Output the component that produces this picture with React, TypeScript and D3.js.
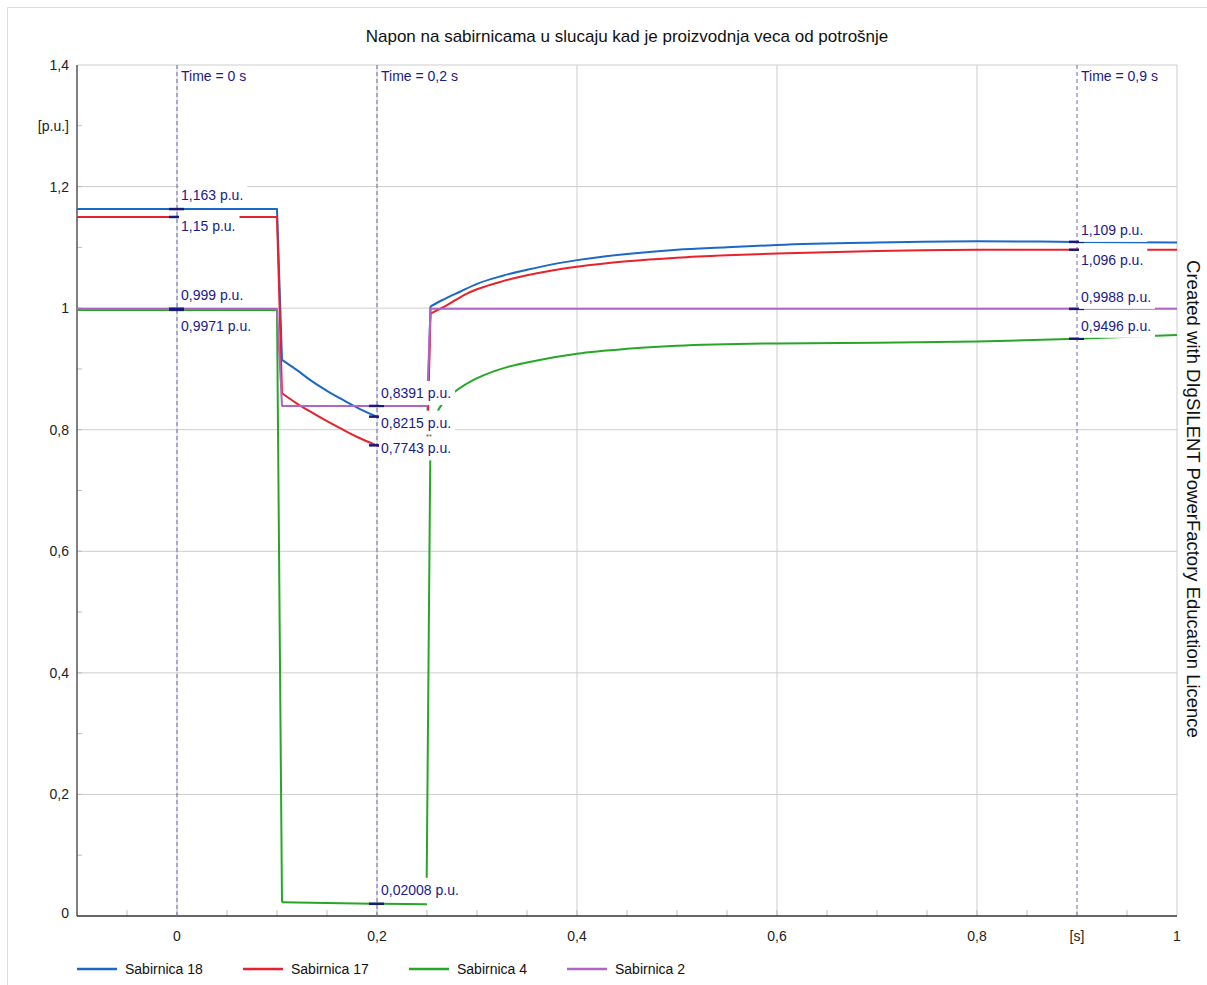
import React from "react";
import * as d3 from "d3";

// ---------- data ----------
const chartTitle = "Napon na sabirnicama u slucaju kad je proizvodnja veca od potrošnje";
const watermark = "Created with DIgSILENT PowerFactory Education Licence";

const seriesNames = ["Sabirnica 18", "Sabirnica 17", "Sabirnica 4", "Sabirnica 2"];
const seriesColors = ["#1c68c6", "#e8212b", "#26a826", "#b064c4"];

// Sabirnica 18
const blueT1 = [-0.1, 0.1, 0.105, 0.12, 0.133, 0.15, 0.166, 0.183, 0.2, 0.225, 0.25];
const blueV1 = [1.163, 1.163, 0.915, 0.898, 0.882, 0.864, 0.849, 0.834, 0.8215, 0.807, 0.796];
const blueT2 = [0.25, 0.2535, 0.265, 0.283, 0.3, 0.325, 0.35, 0.375, 0.4, 0.45, 0.5, 0.55, 0.6, 0.7, 0.8, 0.9, 1.0];
const blueV2 = [0.796, 1.003, 1.013, 1.027, 1.04, 1.053, 1.063, 1.072, 1.079, 1.089, 1.096, 1.1, 1.104, 1.108, 1.11, 1.109, 1.108];

// Sabirnica 17
const redT1 = [-0.1, 0.1, 0.105, 0.12, 0.133, 0.15, 0.166, 0.183, 0.2, 0.225, 0.25];
const redV1 = [1.15, 1.15, 0.86, 0.843, 0.83, 0.814, 0.8, 0.786, 0.7743, 0.765, 0.757];
const redT2 = [0.25, 0.2535, 0.27, 0.29, 0.3, 0.325, 0.35, 0.375, 0.4, 0.45, 0.5, 0.55, 0.6, 0.7, 0.8, 0.9, 1.0];
const redV2 = [0.757, 0.991, 1.005, 1.024, 1.031, 1.044, 1.054, 1.062, 1.068, 1.077, 1.083, 1.087, 1.09, 1.094, 1.096, 1.096, 1.096];

// Sabirnica 4
const greenT1 = [-0.1, 0.1, 0.105, 0.15, 0.2, 0.25];
const greenV1 = [0.9971, 0.9971, 0.0225, 0.0212, 0.02008, 0.0195];
const greenT2 = [0.2497, 0.2535, 0.26, 0.276, 0.29, 0.303, 0.33, 0.36, 0.4, 0.45, 0.5, 0.6, 0.7, 0.8, 0.9, 1.0];
const greenV2 = [0.0625, 0.8, 0.828, 0.86, 0.876, 0.887, 0.903, 0.914, 0.925, 0.933, 0.938, 0.942, 0.943, 0.945, 0.9496, 0.956];

// Sabirnica 2
const purpleT = [-0.1, 0.1, 0.105, 0.25, 0.2535, 1.0];
const purpleV = [0.999, 0.999, 0.8391, 0.8391, 0.9988, 0.9988];

// cursors
const cursorTimes = [0, 0.2, 0.9];
const cursorLabels = ["Time = 0 s", "Time = 0,2 s", "Time = 0,9 s"];

// cursor value readouts
const readCursor = [0, 0, 0, 0, 0.2, 0.2, 0.2, 0.2, 0.9, 0.9, 0.9, 0.9];
const readValues = [1.163, 1.15, 0.999, 0.9971, 0.8391, 0.8215, 0.7743, 0.02008, 1.109, 1.096, 0.9988, 0.9496];

// axes
const xTickValues = [0, 0.2, 0.4, 0.6, 0.8, 1];
const xUnitLabel = "[s]";
const xUnitAt = 0.9;
const yTickValues = [0, 0.2, 0.4, 0.6, 0.8, 1, 1.2, 1.4];
const yUnitLabel = "[p.u.]";
const yUnitAt = 1.3;

// ---------- layout ----------
const W = 1207;
const H = 985;
const L = 77, R = 1177, T = 65, B = 916;
const FONT = "'Liberation Sans', Arial, Helvetica, sans-serif";
const NAVY = "#1a1a8a";
// vertical offsets of readout text centres (px) relative to the value
const readDy = [-14, 9, -14, 16, -13, 6, 3, -14, -12, 10, -12, -13];
const legendX = [77, 243, 409, 567];

const fmt = (v: number) => d3.format(".4~g")(v).replace(".", ",");
const fmtTick = (v: number) => d3.format("~g")(+v.toFixed(2)).replace(".", ",");

let ctx: CanvasRenderingContext2D | null = null;
const measure = (s: string, size: number) => {
  if (!ctx && typeof document !== "undefined") {
    ctx = document.createElement("canvas").getContext("2d");
  }
  if (!ctx) return s.length * size * 0.48;
  ctx.font = `${size}px 'Liberation Sans', Arial, sans-serif`;
  return ctx.measureText(s).width;
};

export default function App() {
  const x = d3.scaleLinear().domain([-0.1, 1]).range([L, R]);
  const y = d3.scaleLinear().domain([0, 1.4]).range([B, T]);
  const straight = d3
    .line<[number, number]>()
    .x((d) => x(d[0]))
    .y((d) => y(d[1]));
  const smooth = d3
    .line<[number, number]>()
    .x((d) => x(d[0]))
    .y((d) => y(d[1]))
    .curve(d3.curveMonotoneX);
  const zip = (t: number[], v: number[]) => t.map((tt, i) => [tt, v[i]] as [number, number]);

  // k = index of the point where the smooth part of a segment begins
  const segments: { s: number; pts: [number, number][]; k: number }[] = [
    { s: 0, pts: zip(blueT1, blueV1), k: 2 },
    { s: 0, pts: zip(blueT2, blueV2), k: 1 },
    { s: 1, pts: zip(redT1, redV1), k: 2 },
    { s: 1, pts: zip(redT2, redV2), k: 1 },
    { s: 2, pts: zip(greenT1, greenV1), k: 2 },
    { s: 2, pts: zip(greenT2, greenV2), k: 1 },
    { s: 3, pts: zip(purpleT, purpleV), k: 999 },
  ];

  const minorX = d3.range(-0.05, 1.0, 0.05);
  const minorY = d3.range(0.1, 1.4, 0.1);
  const gridX = [0, 0.2, 0.4, 0.6, 0.8];
  const gridY = [0.2, 0.4, 0.6, 0.8, 1, 1.2, 1.4];

  return (
    <svg
      width={W}
      height={H}
      style={{ position: "absolute", left: 0, top: 0, background: "#fff" }}
      fontFamily={FONT}
    >
      <rect x={0} y={0} width={W} height={H} fill="#fff" />
      <line x1={7.5} y1={7.5} x2={W} y2={7.5} stroke="#dcdcdc" />
      <line x1={7.5} y1={7.5} x2={7.5} y2={H} stroke="#dcdcdc" />

      <text x={627} y={36} textAnchor="middle" dominantBaseline="central" fontSize={17} fill="#111">
        {chartTitle}
      </text>

      {/* grid */}
      {gridX.map((v) => (
        <line key={"gx" + v} x1={x(v)} x2={x(v)} y1={T} y2={B} stroke="#cdcdcd" strokeWidth={1} />
      ))}
      {gridY.map((v) => (
        <line key={"gy" + v} x1={L} x2={R} y1={y(v)} y2={y(v)} stroke="#cdcdcd" strokeWidth={1} />
      ))}
      <line x1={R} x2={R} y1={T} y2={B} stroke="#cdcdcd" strokeWidth={1} />

      {/* minor ticks */}
      {minorX.map((v) => (
        <line key={"mx" + v} x1={x(v)} x2={x(v)} y1={B} y2={B - 6} stroke="#bdbdbd" />
      ))}
      {minorY.map((v) => (
        <line key={"my" + v} x1={L} x2={L + 5} y1={y(v)} y2={y(v)} stroke="#bdbdbd" />
      ))}

      {/* axes */}
      <line x1={L} x2={L} y1={T} y2={B} stroke="#555" strokeWidth={1.5} />
      <line x1={L} x2={R} y1={B} y2={B} stroke="#333" strokeWidth={1.5} />

      {/* tick labels */}
      {yTickValues.map((v) => (
        <text key={"yl" + v} x={69} y={y(v) - (v === 0 ? 3 : 0)} textAnchor="end" dominantBaseline="central" fontSize={14} fill="#222">
          {fmtTick(v)}
        </text>
      ))}
      <text x={69} y={y(yUnitAt)} textAnchor="end" dominantBaseline="central" fontSize={14} fill="#222">
        {yUnitLabel}
      </text>
      {xTickValues.map((v) => (
        <text key={"xl" + v} x={x(v)} y={936} textAnchor="middle" dominantBaseline="central" fontSize={14} fill="#222">
          {fmtTick(v)}
        </text>
      ))}
      <text x={x(xUnitAt)} y={936} textAnchor="middle" dominantBaseline="central" fontSize={14} fill="#222">
        {xUnitLabel}
      </text>

      {/* cursors */}
      {cursorTimes.map((t, i) => (
        <g key={"c" + t}>
          <line x1={x(t)} x2={x(t)} y1={T} y2={B} stroke="#6a6aae" strokeWidth={1} strokeDasharray="4,3" />
          <text x={x(t) + 4} y={T + 11} dominantBaseline="central" fontSize={14} fill={NAVY}>
            {cursorLabels[i]}
          </text>
        </g>
      ))}

      {/* series */}
      {segments.map((sg, i) => {
        const head = sg.pts.slice(0, Math.min(sg.k + 1, sg.pts.length));
        const tail = sg.k < sg.pts.length ? sg.pts.slice(sg.k) : [];
        return (
          <g key={"s" + i} fill="none" stroke={seriesColors[sg.s]} strokeWidth={2} strokeLinejoin="round">
            <path d={straight(head) || ""} />
            {tail.length > 1 && <path d={smooth(tail) || ""} />}
          </g>
        );
      })}

      {/* value markers */}
      {readValues.map((v, i) => (
        <line
          key={"mk" + i}
          x1={x(readCursor[i]) - 8}
          x2={x(readCursor[i]) + 7}
          y1={y(v)}
          y2={y(v)}
          stroke="#1a1a7a"
          strokeWidth={2.5}
        />
      ))}

      {/* readout labels */}
      {readValues.map((v, i) => {
        const txt = fmt(v) + " p.u.";
        const cx = x(readCursor[i]);
        const cy = y(v) + readDy[i];
        return (
          <g key={"rl" + i}>
            <rect x={cx + 2} y={cy - 12} width={measure(txt, 14) + 6} height={24} fill="#fff" />
            <text x={cx + 4} y={cy} dominantBaseline="central" fontSize={14} fill={NAVY}>
              {txt}
            </text>
          </g>
        );
      })}

      {/* legend */}
      {seriesNames.map((n, i) => (
        <g key={"lg" + i}>
          <line x1={legendX[i]} x2={legendX[i] + 40} y1={969} y2={969} stroke={seriesColors[i]} strokeWidth={2.5} />
          <text x={legendX[i] + 48} y={969} dominantBaseline="central" fontSize={14} fill="#111">
            {n}
          </text>
        </g>
      ))}

      {/* watermark */}
      <text
        transform={`translate(1193,499) rotate(90)`}
        textAnchor="middle"
        dominantBaseline="central"
        fontSize={18.5}
        fill="#111"
      >
        {watermark}
      </text>
    </svg>
  );
}
